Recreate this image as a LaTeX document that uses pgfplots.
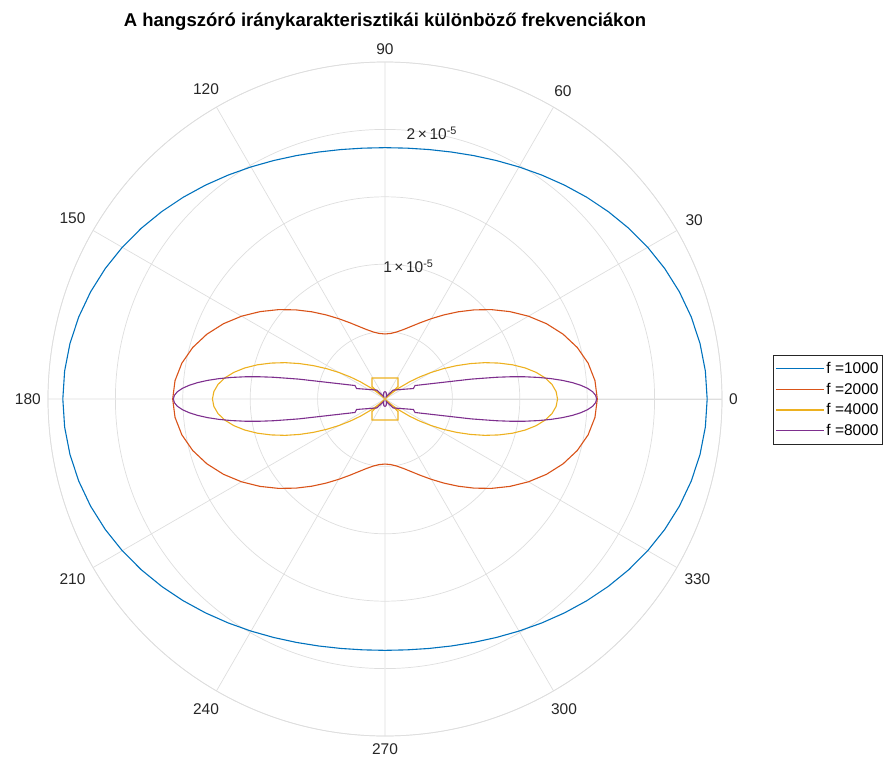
\documentclass[border=0pt]{standalone}
\usepackage{pgfplots}
\pgfplotsset{compat=1.18}
\usepackage{pgfplotstable}
\usepgfplotslibrary{polar}
\usepackage{fontspec}
\setmainfont{Liberation Sans}
\definecolor{mblue}{rgb}{0,0.447,0.741}
\definecolor{morange}{rgb}{0.85,0.325,0.098}
\definecolor{myellow}{rgb}{0.929,0.694,0.125}
\definecolor{mpurple}{rgb}{0.494,0.184,0.556}
\definecolor{gridc}{gray}{0.87}
\definecolor{txt}{gray}{0.15}

\pgfplotstableread{
a r
0 2.3900
5 2.3857
10 2.3729
15 2.3521
20 2.3241
25 2.2898
30 2.2506
35 2.2077
40 2.1625
45 2.1166
50 2.0713
55 2.0280
60 1.9880
65 1.9522
70 1.9216
75 1.8970
80 1.8791
85 1.8681
90 1.8645
95 1.8681
100 1.8791
105 1.8970
110 1.9216
115 1.9522
120 1.9880
125 2.0280
130 2.0713
135 2.1166
140 2.1625
145 2.2077
150 2.2506
155 2.2898
160 2.3241
165 2.3521
170 2.3729
175 2.3857
180 2.3900
185 2.3857
190 2.3729
195 2.3521
200 2.3241
205 2.2898
210 2.2506
215 2.2077
220 2.1625
225 2.1166
230 2.0713
235 2.0280
240 1.9880
245 1.9522
250 1.9216
255 1.8970
260 1.8791
265 1.8681
270 1.8645
275 1.8681
280 1.8791
285 1.8970
290 1.9216
295 1.9522
300 1.9880
305 2.0280
310 2.0713
315 2.1166
320 2.1625
325 2.2077
330 2.2506
335 2.2898
340 2.3241
345 2.3521
350 2.3729
355 2.3857
360 2.3900
}\tblblue

\pgfplotstableread{
a r
0 1.5750
5 1.5636
10 1.5302
15 1.4767
20 1.4060
25 1.3219
30 1.2287
35 1.1305
40 1.0315
45 0.9351
50 0.8444
55 0.7616
60 0.6883
65 0.6256
70 0.5740
75 0.5339
80 0.5053
85 0.4882
90 0.4825
95 0.4882
100 0.5053
105 0.5339
110 0.5740
115 0.6256
120 0.6883
125 0.7616
130 0.8444
135 0.9351
140 1.0315
145 1.1305
150 1.2287
155 1.3219
160 1.4060
165 1.4767
170 1.5302
175 1.5636
180 1.5750
185 1.5636
190 1.5302
195 1.4767
200 1.4060
205 1.3219
210 1.2287
215 1.1305
220 1.0315
225 0.9351
230 0.8444
235 0.7616
240 0.6883
245 0.6256
250 0.5740
255 0.5339
260 0.5053
265 0.4882
270 0.4825
275 0.4882
280 0.5053
285 0.5339
290 0.5740
295 0.6256
300 0.6883
305 0.7616
310 0.8444
315 0.9351
320 1.0315
325 1.1305
330 1.2287
335 1.3219
340 1.4060
345 1.4767
350 1.5302
355 1.5636
360 1.5750
}\tblorange

\pgfplotstableread{
a r
0 1.2800
2.5 1.2707
5 1.2433
7.5 1.1987
10 1.1385
12.5 1.0648
15 0.9800
17.5 0.8862
20 0.7884
22.5 0.6869
25 0.5854
27.5 0.4863
30 0.3921
32.5 0.3034
35 0.2222
38 0.1356
40 0.0846
42 0.0392
43.5 0.0040
43.9 0.1340
58.2 0.1830
90 0.1560
121.8 0.1830
136.1 0.1340
136.5 0.0040
138 0.0392
140 0.0846
142 0.1356
145 0.2222
147.5 0.3034
150 0.3921
152.5 0.4863
155 0.5854
157.5 0.6869
160 0.7884
162.5 0.8862
165 0.9800
167.5 1.0648
170 1.1385
172.5 1.1987
175 1.2433
177.5 1.2707
180 1.2800
182.5 1.2707
185 1.2433
187.5 1.1987
190 1.1385
192.5 1.0648
195 0.9800
197.5 0.8862
200 0.7884
202.5 0.6869
205 0.5854
207.5 0.4863
210 0.3921
212.5 0.3034
215 0.2222
218 0.1356
220 0.0846
222 0.0392
223.5 0.0040
223.9 0.1340
238.2 0.1830
270 0.1560
301.8 0.1830
316.1 0.1340
316.5 0.0040
318 0.0392
320 0.0846
322 0.1356
325 0.2222
327.5 0.3034
330 0.3921
332.5 0.4863
335 0.5854
337.5 0.6869
340 0.7884
342.5 0.8862
345 0.9800
347.5 1.0648
350 1.1385
352.5 1.1987
355 1.2433
357.5 1.2707
360 1.2800
}\tblyellow

\pgfplotstableread{
a r
0 1.5700
1 1.5627
2 1.5411
3 1.5054
4 1.4565
5 1.3952
6 1.3228
7 1.2406
8 1.1501
9 1.0530
10 0.9511
11 0.8459
12 0.7396
13 0.6550
24.2 0.2440
20.2 0.2250
48 0.0890
62 0.0200
70 0.0300
80 0.0500
90 0.0550
100 0.0500
110 0.0300
118 0.0200
132 0.0890
159.8 0.2250
155.8 0.2440
167 0.6550
168 0.7396
169 0.8459
170 0.9511
171 1.0530
172 1.1501
173 1.2406
174 1.3228
175 1.3952
176 1.4565
177 1.5054
178 1.5411
179 1.5627
180 1.5700
181 1.5627
182 1.5411
183 1.5054
184 1.4565
185 1.3952
186 1.3228
187 1.2406
188 1.1501
189 1.0530
190 0.9511
191 0.8459
192 0.7396
193 0.6550
204.2 0.2440
200.2 0.2250
228 0.0890
242 0.0200
250 0.0300
260 0.0500
270 0.0550
280 0.0500
290 0.0300
298 0.0200
312 0.0890
339.8 0.2250
335.8 0.2440
347 0.6550
348 0.7396
349 0.8459
350 0.9511
351 1.0530
352 1.1501
353 1.2406
354 1.3228
355 1.3952
356 1.4565
357 1.5054
358 1.5411
359 1.5627
360 1.5700
}\tblpurple

\begin{document}
\begin{tikzpicture}
\useasboundingbox (-385pt,-366pt) rectangle (503pt,399pt);
\begin{polaraxis}[
  at={(0pt,0pt)}, anchor=origin,
  width=674pt, height=674pt, scale only axis,
  ymin=0, ymax=2.5,
  xtick={0,30,...,330},
  xticklabels={0,30,60,90,120,150,180,210,240,270,300,330},
  ytick={0.5,1,1.5,2,2.5},
  yticklabels={,,,,,},
  grid=major,
  major grid style={draw=gridc, line width=0.7pt},
  axis line style={draw=gridc, line width=0.7pt},
  major tick length=0pt,
  xticklabel style={font=\fontsize{15.5}{18}\selectfont, text=txt, inner sep=7pt},
  title={A hangszóró iránykarakterisztikái különböző frekvenciákon},
  title style={font=\fontsize{18.5}{21}\selectfont\bfseries, at={(0.5,1)}, anchor=center, yshift=26pt},
  legend style={at={(1.0757,0.499)}, anchor=west, font=\fontsize{15.5}{18}\selectfont,
    draw=txt, line width=0.6pt, inner xsep=2pt, inner ysep=5pt, row sep=4pt,
    nodes={inner sep=2pt}},
  legend cell align=left,
  legend image code/.code={\draw[#1, line width=1.1pt] (0pt,0pt) -- (48pt,0pt);},
  every axis plot/.append style={line width=1.1pt},
]
\addplot[mblue] table[x=a,y=r] {\tblblue};
\addlegendentry{f =1000}
\addplot[morange] table[x=a,y=r] {\tblorange};
\addlegendentry{f =2000}
\addplot[myellow] table[x=a,y=r] {\tblyellow};
\addlegendentry{f =4000}
\addplot[mpurple] table[x=a,y=r] {\tblpurple};
\addlegendentry{f =8000}
\node[font=\fontsize{15.5}{18}\selectfont, text=txt] at (axis cs:80,1) {1\,×\,10\textsuperscript{-5}};
\node[font=\fontsize{15.5}{18}\selectfont, text=txt] at (axis cs:80,2) {2\,×\,10\textsuperscript{-5}};
\end{polaraxis}
\end{tikzpicture}
\end{document}
